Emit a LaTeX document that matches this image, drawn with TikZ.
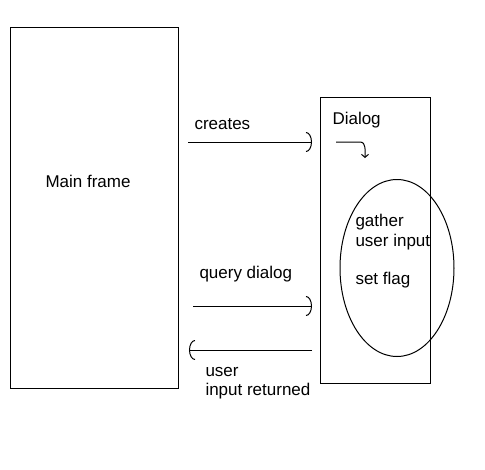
\documentclass[tikz,border=0pt]{standalone}
\usepackage{fontspec}
\setmainfont{Liberation Sans}
\usetikzlibrary{shapes.geometric,arrows.meta}
\begin{document}
\begin{tikzpicture}[x=1pt,y=-1pt,line width=1pt,
  every node/.style={font=\fontsize{17}{19.5}\selectfont},
  lbl/.style={anchor=west, inner sep=0, align=left},
  flow/.style={-{Arc Barb[length=6pt,width=20pt]}}]
\useasboundingbox (0,0) rectangle (485,469);
\node[draw, anchor=north west, inner sep=0, minimum width=168, minimum height=361] (mainframe) at (10,27){};
\node[draw, anchor=north west, inner sep=0, minimum width=110, minimum height=286] (dialog) at (320,97){};
\node[draw, ellipse, inner sep=0, minimum width=114, minimum height=177] (inputloop) at (397,268){};
\node[lbl] (tmain) at (45,181){Main frame};
\node[lbl] (tdialog) at (332,120){Dialog};
\node[lbl] (tcreates) at (194,124){creates};
\node[lbl] (tquery) at (199,274){query dialog};
\node[lbl] (tgather) at (355,232){gather\\user input};
\node[lbl] (tflag) at (355,280){set flag};
\node[lbl] (treturn) at (205,383){user\\input returned};
\coordinate (ca) at (188,142);
\coordinate (cb) at (312,142);
\coordinate (qa) at (193,306);
\coordinate (qb) at (312,306);
\coordinate (ra) at (312,350);
\coordinate (rb) at (189,350);
\coordinate (sa) at (336,142);
\coordinate (sb) at (360,142);
\coordinate (sc) at (365,158);
\draw[flow] (ca) -- (cb);
\draw[flow] (qa) -- (qb);
\draw[flow] (ra) -- (rb);
\draw[-{Straight Barb[length=3pt,width=7pt]}] (sa) -- (sb) to[out=0,in=90] (sc);
\end{tikzpicture}
\end{document}
